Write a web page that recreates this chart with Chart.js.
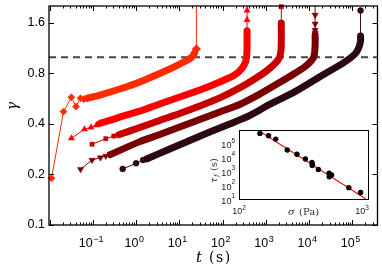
<!DOCTYPE html>
<html><head><meta charset="utf-8">
<script src="https://cdn.jsdelivr.net/npm/chart.js@4"></script>
<style>
html,body{margin:0;padding:0;background:#fff;}
#wrap{position:relative;width:382px;height:272px;}
canvas{position:absolute;left:0;top:0;}
</style></head><body>
<div id="wrap"><canvas id="main" width="382" height="272"></canvas><canvas id="inset" width="382" height="272"></canvas></div>
<script>
// ---------- main chart data (t in s, gamma) ----------
const s1SparseT=[0.0111,0.021,0.032,0.041,0.052,0.062,0.074];
const s1SparseG=[0.19,0.474,0.577,0.508,0.569,0.562,0.569];
const s1BandT=[0.074,0.145,0.42,1.22,3.5,7.8,13.3,19.3,22.5];
const s1BandG=[0.569,0.595,0.647,0.712,0.80,0.88,0.943,1.0,1.06];
const s1TailT=[22.5,24.8,24.8];
const s1TailG=[1.06,1.12,2.02];

const s2SparseT=[0.032,0.064,0.091,0.122,0.15];
const s2SparseG=[0.329,0.372,0.382,0.394,0.404];
const s2BandT=[0.15,0.42,1.22,3.5,10.2,29.7,86,190,276,341,362,368,368];
const s2BandG=[0.404,0.44,0.477,0.526,0.579,0.637,0.712,0.783,0.853,0.94,1.03,1.18,1.44];
const s2TailT=[368,368,368,368];
const s2TailG=[1.44,1.67,1.9,2.02];

const s3SparseT=[0.096,0.2,0.305,0.4];
const s3SparseG=[0.303,0.327,0.339,0.345];
const s3BandT=[0.4,1.22,3.5,10.2,29.7,86,248,551,1100,1680,2080,2260,2280];
const s3BandG=[0.345,0.381,0.42,0.462,0.512,0.572,0.656,0.741,0.838,0.925,1.0,1.13,1.6];
const s3TailT=[2280,2280];
const s3TailG=[1.6,2.0];

const s4SparseT=[0.052,0.096,0.15,0.2,0.256];
const s4SparseG=[0.215,0.244,0.252,0.258,0.263];
const s4BandT=[0.256,1.22,3.5,10.2,29.7,86,248,720,2080,4630,7870,10800,13000,13800,13800];
const s4BandG=[0.263,0.314,0.346,0.384,0.425,0.472,0.523,0.603,0.707,0.8,0.875,0.941,1.01,1.18,1.36];
const s4TailT=[13800,13800,13800,13800,13800,13800];
const s4TailG=[1.36,1.395,1.45,1.58,1.785,2.02];

const s5SparseT=[0.49,1.0,1.45,1.8];
const s5SparseG=[0.216,0.233,0.244,0.248];
const s5BandT=[1.8,6.0,17.4,50.4,146,420,1220,4630,17400,66000,113000,139000,155000,155000];
const s5BandG=[0.248,0.284,0.319,0.358,0.40,0.449,0.523,0.621,0.762,0.935,1.04,1.13,1.25,1.34];
const s5TailT=[155000,155000];
const s5TailG=[1.34,1.9];

const dashT=[0.0097,3.82e5];
const dashG=[1,1];

const xMin=0.0097, xMax=3.82e5, yMin=0.1, yMax=2.02;
const yTicks=[0.1,0.2,0.4,0.8,1.6];
const xTickExps=[-1,0,1,2,3,4,5];

// ---------- inset data ----------
const insetSigma=[148,174,199,247,296,347,392,396,394,442,540,566,542,782,975];
const insetTau=[5.7e5,3.8e5,2.2e5,3.6e4,1.8e4,8.1e3,4.5e3,3.2e3,2.7e3,1.4e3,752,566,427,69,31];
const fitSigma=[140,1070];
const fitTau=[1.08e6,11.1];
const insetXTickExps=[2,3];
const insetYTickExps=[1,2,3,4,5];

// ---------- helpers ----------
const pts=(a,b)=>a.map((v,i)=>({x:v,y:b[i]}));
const colors=['#ff2a00','#ff0000','#c80000','#780000','#2a0a10'];
const styles=[{s:'rectRot',r:3.6,rot:0},{s:'triangle',r:3.6,rot:0},{s:'rect',r:3,rot:0},{s:'triangle',r:3.6,rot:180},{s:'circle',r:3,rot:0}];
const series=[
 [s1SparseT,s1SparseG,s1BandT,s1BandG,s1TailT,s1TailG],
 [s2SparseT,s2SparseG,s2BandT,s2BandG,s2TailT,s2TailG],
 [s3SparseT,s3SparseG,s3BandT,s3BandG,s3TailT,s3TailG],
 [s4SparseT,s4SparseG,s4BandT,s4BandG,s4TailT,s4TailG],
 [s5SparseT,s5SparseG,s5BandT,s5BandG,s5TailT,s5TailG]
];
const datasets=[];
series.forEach((s,k)=>{
  const c=colors[k], st=styles[k];
  const tailR = k===0 ? 4.3 : st.r;
  datasets.push({data:pts(s[4],s[5]),showLine:true,borderColor:c,backgroundColor:c,borderWidth:1,
    pointStyle:st.s,pointRotation:st.rot,pointBorderWidth:0.5,
    pointRadius:ctx=>(ctx.dataIndex===0||ctx.raw.y>=yMax)?0:tailR,clip:false,order:k});
  datasets.push({data:pts(s[2],s[3]),showLine:true,borderColor:c,borderWidth:7,borderCapStyle:'round',
    borderJoinStyle:'round',pointRadius:0,tension:0.25,clip:false,order:k});
  datasets.push({data:pts(s[0],s[1]),showLine:true,borderColor:c,backgroundColor:c,borderWidth:1,
    pointStyle:st.s,pointRotation:st.rot,pointRadius:st.r,pointBorderWidth:0.5,clip:false,order:k});
});
datasets.push({data:pts(dashT,dashG),showLine:true,borderColor:'#444',borderWidth:1.8,borderDash:[7,5],
  pointRadius:0,clip:false,order:100});

function line(ctx,x1,y1,x2,y2){ctx.beginPath();ctx.moveTo(x1,y1);ctx.lineTo(x2,y2);ctx.stroke();}

const mainDeco={
  id:'mainDeco',
  beforeDraw(chart){const ctx=chart.ctx;ctx.save();ctx.fillStyle='#fff';ctx.fillRect(0,0,chart.width,chart.height);ctx.restore();},
  afterDraw(chart){
    const {ctx,chartArea:a,scales:{x,y}}=chart;
    ctx.save();
    ctx.strokeStyle='#000';ctx.lineWidth=1;
    for(let e=-2;e<=5;e++){for(let k=1;k<=9;k++){const v=k*Math.pow(10,e);if(v<x.min||v>x.max)continue;
      const px=Math.round(x.getPixelForValue(v))+0.5;const L=k===1?5:2.5;
      line(ctx,px,a.bottom,px,a.bottom-L);line(ctx,px,a.top,px,a.top+L);}}
    yTicks.forEach(v=>{const py=Math.round(y.getPixelForValue(v))+0.5;
      line(ctx,a.left,py,a.left+5,py);line(ctx,a.right,py,a.right-5,py);});
    ctx.lineWidth=1.3;
    ctx.strokeRect(a.left,a.top,a.right-a.left,a.bottom-a.top);
    // y tick labels
    ctx.fillStyle='#000';ctx.font='12.5px "Liberation Sans", Arial, sans-serif';
    ctx.textAlign='right';ctx.textBaseline='middle';
    yTicks.forEach(v=>{ctx.fillText(String(v),a.left-4,y.getPixelForValue(v));});
    // x tick labels
    ctx.textAlign='left';ctx.textBaseline='alphabetic';
    xTickExps.forEach(e=>{
      const px=x.getPixelForValue(Math.pow(10,e));
      const sup=(e<0?'\u2212':'')+Math.abs(e);
      ctx.font='12.5px "Liberation Sans", Arial, sans-serif';const w1=ctx.measureText('10').width;
      ctx.font='9px "Liberation Sans", Arial, sans-serif';const w2=ctx.measureText(sup).width;
      const x0=px-2-(w1+w2)/2;
      ctx.font='12.5px "Liberation Sans", Arial, sans-serif';ctx.fillText('10',x0,247);
      ctx.font='9px "Liberation Sans", Arial, sans-serif';ctx.fillText(sup,x0+w1+0.5,241.5);
    });
    // x title
    ctx.font='italic 15px "DejaVu Serif", serif';ctx.fillText('t',196,262);
    ctx.font='14px "DejaVu Serif", serif';
    try{ctx.letterSpacing='1.5px';}catch(e){}
    ctx.fillText('(s)',209,262);
    try{ctx.letterSpacing='0px';}catch(e){}
    // y title
    ctx.translate(13,106);ctx.rotate(-Math.PI/2);
    ctx.textAlign='center';ctx.textBaseline='middle';
    ctx.font='italic 14px "DejaVu Serif", serif';ctx.fillText('\u03b3',0,0);
    ctx.restore();
  }
};

new Chart(document.getElementById('main'),{
  type:'scatter',
  data:{datasets},
  options:{responsive:false,animation:false,devicePixelRatio:1,
    layout:{padding:{left:49,top:6,right:4,bottom:47}},
    scales:{x:{type:'logarithmic',min:xMin,max:xMax,display:false},
            y:{type:'logarithmic',min:yMin,max:yMax,display:false}},
    plugins:{legend:{display:false},tooltip:{enabled:false}}},
  plugins:[mainDeco]
});

// ---------- inset ----------
const insetDeco={
  id:'insetDeco',
  beforeDatasetsDraw(chart){const {ctx,chartArea:a}=chart;ctx.save();ctx.fillStyle='#fff';
    ctx.fillRect(a.left,a.top,a.right-a.left,a.bottom-a.top);ctx.restore();},
  afterDraw(chart){
    const {ctx,chartArea:a,scales:{x,y}}=chart;
    ctx.save();
    ctx.strokeStyle='#000';ctx.lineWidth=1;
    ctx.strokeRect(Math.round(a.left)+0.5,Math.round(a.top)+0.5,Math.round(a.right-a.left),Math.round(a.bottom-a.top));
    ctx.fillStyle='#222';ctx.textBaseline='alphabetic';
    const f1='9px "Liberation Sans", Arial, sans-serif', f2='6.5px "Liberation Sans", Arial, sans-serif';
    insetYTickExps.forEach(e=>{
      const py=y.getPixelForValue(Math.pow(10,e));const sup=String(e);
      ctx.font=f2;const w2=ctx.measureText(sup).width;
      ctx.font=f1;const w1=ctx.measureText('10').width;
      const xr=a.left-4;
      ctx.textAlign='left';
      ctx.font=f1;ctx.fillText('10',xr-w2-w1,py+4.3);
      ctx.font=f2;ctx.fillText(sup,xr-w2,py-1.3);
    });
    insetXTickExps.forEach(e=>{
      const px=x.getPixelForValue(Math.pow(10,e));const sup=String(e);
      ctx.font=f2;const w2=ctx.measureText(sup).width;
      ctx.font=f1;const w1=ctx.measureText('10').width;
      const x0=px-(w1+w2)/2;
      ctx.textAlign='left';
      ctx.font=f1;ctx.fillText('10',x0,214);
      ctx.font=f2;ctx.fillText(sup,x0+w1,209.5);
    });
    ctx.fillStyle='#333';
    ctx.font='italic 10px "DejaVu Serif", serif';ctx.textAlign='left';
    ctx.fillText('\u03c3',288,215);
    ctx.font='10px "DejaVu Serif", serif';
    ctx.fillText('(Pa)',299,215);
    ctx.translate(217,166);ctx.rotate(-Math.PI/2);
    ctx.font='italic 10px "DejaVu Serif", serif';ctx.textAlign='left';
    ctx.fillText('\u03c4',-17,0);
    ctx.font='italic 7px "DejaVu Serif", serif';ctx.fillText('f',-11,2);
    ctx.font='10px "DejaVu Serif", serif';ctx.fillText('(s)',-5,0);
    ctx.restore();
  }
};

new Chart(document.getElementById('inset'),{
  type:'scatter',
  data:{datasets:[
    {data:pts(insetSigma,insetTau),showLine:false,pointRadius:2.7,backgroundColor:'#000',borderColor:'#000',pointBorderWidth:0,clip:false,order:0},
    {data:pts(fitSigma,fitTau),showLine:true,borderColor:'#ff0000',borderWidth:1.1,pointRadius:0,clip:0,order:1}
  ]},
  options:{responsive:false,animation:false,devicePixelRatio:1,
    layout:{padding:{left:239,top:130,right:14,bottom:72.7}},
    scales:{x:{type:'logarithmic',min:100,max:1120,display:false},
            y:{type:'logarithmic',min:10,max:1e6,display:false}},
    plugins:{legend:{display:false},tooltip:{enabled:false}}},
  plugins:[insetDeco]
});
</script>
</body></html>
